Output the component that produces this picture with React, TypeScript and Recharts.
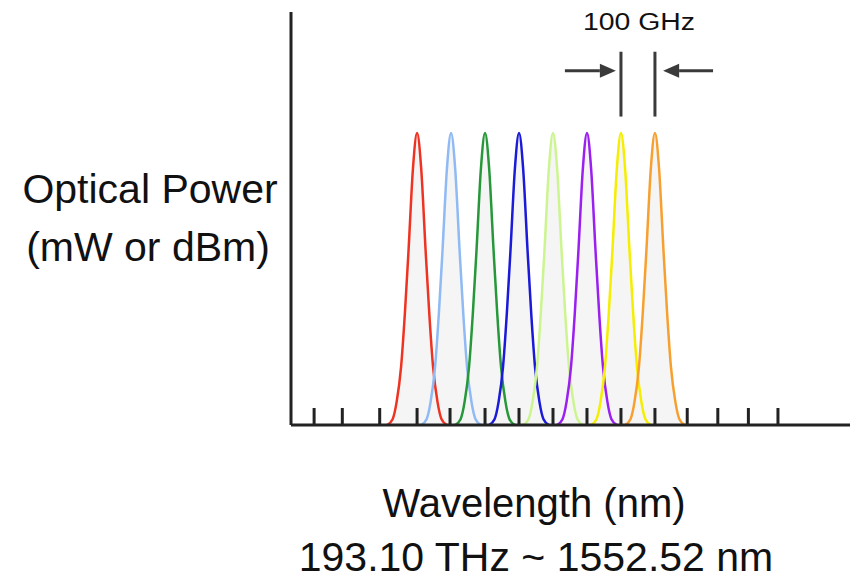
import { ComposedChart, Area, Line, XAxis, YAxis, ReferenceLine } from "recharts";

// channel centres (in channel-spacing units, red = 0)
const channels = [0, 1, 2, 3, 4, 5, 6, 7];
const channelColors = ["#ee3322", "#8fbaf3", "#26983a", "#1a1ad8", "#ccf590", "#9b1ff0", "#f5ee00", "#f7a030"];

// one channel's spectral profile read from the red peak (offset from centre, relative power)
const profileOffsets = [-0.88, -0.72, -0.6, -0.47, -0.36, -0.25, -0.12, 0, 0.12, 0.25, 0.36, 0.47, 0.6, 0.72, 0.88];
const profilePower = [0, 0.02, 0.08, 0.2, 0.38, 0.6, 0.88, 1, 0.88, 0.6, 0.38, 0.2, 0.08, 0.02, 0];

// tick marks along the wavelength axis
const wavelengthTicks = [-3.03, -2.2, -1.1, 0, 0.97, 2, 3, 4, 5, 6, 7, 7.95, 8.85, 9.75, 10.62];

const xDomain = [-3.71, 12.74];
const yDomain = [0, 1.414];

const spacingMarkY = [1.056, 1.278];
const arrowY = 1.213;
const leftArrow = [4.35, 5.85];
const rightArrow = [8.71, 7.24];

const axisColor = "#222";
const markColor = "#3a3a3a";
const font = "'Liberation Sans', Arial, Helvetica, sans-serif";

const series = channels.map((c, i) => ({
  key: `ch${i}`,
  color: channelColors[i],
  data: profileOffsets.map((o, j) => ({ x: c + o, y: profilePower[j] })),
}));

const ArrowShape = (props: any) => {
  const { x1, y1, x2, y2 } = props;
  const dir = x2 > x1 ? 1 : -1;
  const head = 16;
  return (
    <g>
      <line x1={x1} y1={y1} x2={x2 - dir * head} y2={y2} stroke={markColor} strokeWidth={3} />
      <polygon
        points={`${x2},${y2} ${x2 - dir * head},${y2 - 7} ${x2 - dir * head},${y2 + 7}`}
        fill={markColor}
      />
    </g>
  );
};

export default function App() {
  return (
    <div style={{ position: "absolute", left: 0, top: 0, width: 857, height: 585, background: "#fff" }}>
      <ComposedChart width={857} height={585} margin={{ top: 12, right: 7, left: 290, bottom: 160 }}>
        <XAxis
          type="number"
          dataKey="x"
          domain={xDomain}
          ticks={wavelengthTicks}
          allowDataOverflow
          mirror
          tickSize={17}
          tickFormatter={() => ""}
          stroke={axisColor}
          strokeWidth={3}
          axisLine={{ stroke: axisColor, strokeWidth: 3 }}
          tickLine={{ stroke: axisColor, strokeWidth: 3 }}
        />
        <YAxis
          type="number"
          dataKey="y"
          domain={yDomain}
          width={1}
          tick={false}
          tickLine={false}
          stroke={axisColor}
          strokeWidth={3}
          axisLine={{ stroke: axisColor, strokeWidth: 3 }}
        />
        {series.map((s) => (
          <Area
            key={`fill-${s.key}`}
            data={s.data}
            dataKey="y"
            type="monotone"
            stroke="none"
            fill="#f5f5f5"
            fillOpacity={1}
            isAnimationActive={false}
            dot={false}
            activeDot={false}
          />
        ))}
        {series.map((s) => (
          <Line
            key={`line-${s.key}`}
            data={s.data}
            dataKey="y"
            type="monotone"
            stroke={s.color}
            strokeWidth={2.5}
            dot={false}
            activeDot={false}
            isAnimationActive={false}
          />
        ))}
        <ReferenceLine
          segment={[{ x: 6, y: spacingMarkY[0] }, { x: 6, y: spacingMarkY[1] }]}
          stroke={markColor}
          strokeWidth={3}
          ifOverflow="visible"
        />
        <ReferenceLine
          segment={[{ x: 7, y: spacingMarkY[0] }, { x: 7, y: spacingMarkY[1] }]}
          stroke={markColor}
          strokeWidth={3}
          ifOverflow="visible"
        />
        <ReferenceLine
          segment={[{ x: leftArrow[0], y: arrowY }, { x: leftArrow[1], y: arrowY }]}
          shape={ArrowShape}
          ifOverflow="visible"
        />
        <ReferenceLine
          segment={[{ x: rightArrow[0], y: arrowY }, { x: rightArrow[1], y: arrowY }]}
          shape={ArrowShape}
          ifOverflow="visible"
        />
      </ComposedChart>
      <svg
        width={857}
        height={585}
        style={{ position: "absolute", left: 0, top: 0, pointerEvents: "none" }}
        fontFamily={font}
        fill="#111"
      >
        <text x={639} y={30} fontSize={23} textAnchor="middle" textLength={112} lengthAdjust="spacingAndGlyphs">
          100 GHz
        </text>
        <text x={150} y={203} fontSize={41} textAnchor="middle">
          Optical Power
        </text>
        <text x={148} y={261} fontSize={41} textAnchor="middle">
          (mW or dBm)
        </text>
        <text x={534} y={517} fontSize={40} textAnchor="middle">
          Wavelength (nm)
        </text>
        <text x={536} y={571} fontSize={41} textAnchor="middle">
          193.10 THz ~ 1552.52 nm
        </text>
      </svg>
    </div>
  );
}
